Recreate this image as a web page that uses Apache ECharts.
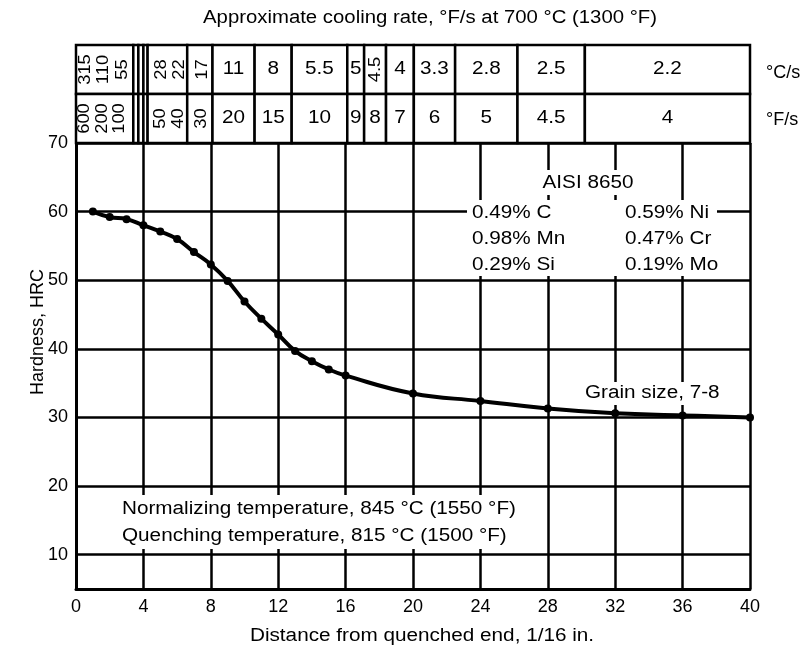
<!DOCTYPE html>
<html>
<head>
<meta charset="utf-8">
<title>AISI 8650 hardenability</title>
<script src="https://cdn.jsdelivr.net/npm/echarts@6.0.0/dist/echarts.min.js"></script>
<style>
html, body { margin: 0; padding: 0; background: #fff; }
#chart { width: 805px; height: 652px; }
</style>
</head>
<body>
<div id="chart"></div>
<script>
// Jominy curve: distance from quenched end (1/16 in.) and hardness (HRC)
var distance = [1, 2, 3, 4, 5, 6, 7, 8, 9, 10, 11, 12, 13, 14, 15, 16, 20, 24, 28, 32, 36, 40];
var hardness = [60, 59.2, 58.9, 58, 57.1, 56, 54.1, 52.3, 49.9, 46.9, 44.4, 42.1, 39.7, 38.2, 37.0, 36.1, 33.5, 32.4, 31.3, 30.6, 30.3, 30.0];
var yTicks = [10, 20, 30, 40, 50, 60, 70];

// cooling rate table, column edges in 1/16 in.
var rateEdges = [0, 3.4, 3.7, 4.0, 4.25, 6.6, 8.1, 10.6, 12.8, 16.1, 17.1, 18.4, 20.05, 22.5, 26.2, 30.2, 40];
var rateC = ['', '', '', '', '', '', '11', '8', '5.5', '5', '', '4', '3.3', '2.8', '2.5', '2.2'];
var rateF = ['', '', '', '', '', '', '20', '15', '10', '9', '8', '7', '6', '5', '4.5', '4'];
// numbers standing upright in the narrow columns
var uprightPosC = [0.55, 1.6, 2.75, 5.05, 6.15, 7.5, 17.75];
var uprightC = ['315', '110', '55', '28', '22', '17', '4.5'];
var uprightPosF = [0.5, 1.55, 2.6, 5.0, 6.1, 7.45];
var uprightF = ['600', '200', '100', '50', '40', '30'];

var font = 'Liberation Sans';
var stretch = 1.15;

var cells = [];
for (var i = 0; i < rateEdges.length - 1; i++) {
    cells.push({ value: [rateEdges[i], rateEdges[i + 1], 1], label: rateC[i] });
    cells.push({ value: [rateEdges[i], rateEdges[i + 1], 0], label: rateF[i] });
}
var upright = [];
for (var i = 0; i < uprightC.length; i++) upright.push({ value: [uprightPosC[i], 1.5], label: uprightC[i] });
for (var i = 0; i < uprightF.length; i++) upright.push({ value: [uprightPosF[i], 0.5], label: uprightF[i] });

var curve = [];
for (var i = 0; i < distance.length; i++) curve.push([distance[i], hardness[i]]);

function txt(text, x, y, align, extra) {
    var el = {
        type: 'text', x: x, y: y, z: 20, scaleX: stretch,
        style: { text: text, fill: '#000', fontSize: 18, fontFamily: font, align: align || 'left', verticalAlign: 'middle' }
    };
    for (var k in extra) el[k] = extra[k];
    return el;
}
function whiteBox(x, y, w, h) {
    return { type: 'rect', z: 15, shape: { x: x, y: y, width: w, height: h }, style: { fill: '#fff' } };
}

var myChart = echarts.init(document.getElementById('chart'));
myChart.setOption({
    animation: false,
    backgroundColor: '#fff',
    grid: [
        { left: 76, right: 55, top: 143, bottom: 63 },
        { left: 76, right: 55, top: 45, height: 98 }
    ],
    xAxis: [
        {
            type: 'value', gridIndex: 0, min: 0, max: 40, interval: 4,
            axisLine: { lineStyle: { color: '#000', width: 3 } },
            axisTick: { show: false },
            axisLabel: { color: '#000', fontSize: 18, fontFamily: font, margin: 9 },
            splitLine: { lineStyle: { color: '#000', width: 2.5 } }
        },
        { type: 'value', gridIndex: 1, min: 0, max: 40, show: false }
    ],
    yAxis: [
        {
            type: 'value', gridIndex: 0, min: 5, max: 70,
            axisLine: { show: true, lineStyle: { color: '#000', width: 3 } },
            axisTick: { show: false, customValues: yTicks },
            axisLabel: { customValues: yTicks, color: '#000', fontSize: 18, fontFamily: font, margin: 8 },
            splitLine: { lineStyle: { color: '#000', width: 2.5 } }
        },
        { type: 'value', gridIndex: 1, min: 0, max: 2, show: false }
    ],
    series: [
        {
            type: 'line', xAxisIndex: 0, yAxisIndex: 0, z: 5,
            data: curve, smooth: 0.45,
            symbol: 'circle', symbolSize: 8,
            itemStyle: { color: '#000' },
            lineStyle: { color: '#000', width: 4 }
        },
        {
            type: 'custom', xAxisIndex: 1, yAxisIndex: 1,
            data: cells.map(function (c) { return c.value; }),
            renderItem: function (params, api) {
                var p0 = api.coord([api.value(0), api.value(2) + 1]);
                var p1 = api.coord([api.value(1), api.value(2)]);
                return {
                    type: 'group',
                    children: [
                        {
                            type: 'rect',
                            shape: { x: p0[0], y: p0[1], width: p1[0] - p0[0], height: p1[1] - p0[1] },
                            style: { fill: '#fff', stroke: '#000', lineWidth: 2.5 }
                        },
                        {
                            type: 'text', x: (p0[0] + p1[0]) / 2, y: (p0[1] + p1[1]) / 2, scaleX: stretch,
                            style: { text: cells[params.dataIndex].label, fill: '#000', fontSize: 18, fontFamily: font, align: 'center', verticalAlign: 'middle' }
                        }
                    ]
                };
            }
        },
        {
            type: 'custom', xAxisIndex: 1, yAxisIndex: 1, z: 4,
            data: upright.map(function (c) { return c.value; }),
            renderItem: function (params, api) {
                var p = api.coord([api.value(0), api.value(1)]);
                return {
                    type: 'text', x: p[0], y: p[1], rotation: Math.PI / 2, scaleX: 1.08,
                    style: { text: upright[params.dataIndex].label, fill: '#000', fontSize: 17, fontFamily: font, align: 'center', verticalAlign: 'middle' }
                };
            }
        }
    ],
    graphic: [
        txt('Approximate cooling rate, °F/s at 700 °C (1300 °F)', 430, 18, 'center', { scaleX: 1.13 }),
        txt('°C/s', 766, 73, 'left', { scaleX: 1 }),
        txt('°F/s', 766, 120, 'left', { scaleX: 1 }),
        txt('Hardness, HRC', 38, 332, 'center', { rotation: Math.PI / 2, scaleX: 1 }),
        txt('Distance from quenched end, 1/16 in.', 422, 636, 'center'),
        whiteBox(540, 170, 100, 25),
        txt('AISI 8650', 588, 183, 'center'),
        whiteBox(467, 200, 250, 76),
        txt('0.49% C', 472, 213),
        txt('0.98% Mn', 472, 239),
        txt('0.29% Si', 472, 265),
        txt('0.59% Ni', 625, 213),
        txt('0.47% Cr', 625, 239),
        txt('0.19% Mo', 625, 265),
        whiteBox(580, 382, 138, 23),
        txt('Grain size, 7-8', 585, 393),
        whiteBox(117, 495, 400, 54),
        txt('Normalizing temperature, 845 °C (1550 °F)', 122, 509),
        txt('Quenching temperature, 815 °C (1500 °F)', 122, 536)
    ]
});
</script>
</body>
</html>
